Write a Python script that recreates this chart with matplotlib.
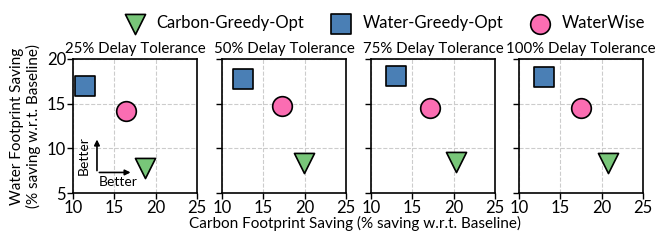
import matplotlib
matplotlib.use("Agg")
import matplotlib.pyplot as plt

plt.rcParams["font.family"] = ["Lato", "DejaVu Sans"]

# delay tolerance panels
titles = ["25% Delay Tolerance", "50% Delay Tolerance", "75% Delay Tolerance", "100% Delay Tolerance"]

# (carbon saving, water saving) per panel
carbon_greedy_x = [18.7, 19.9, 20.3, 20.8]
carbon_greedy_y = [7.8, 8.4, 8.5, 8.4]
water_greedy_x = [11.5, 12.6, 13.0, 13.0]
water_greedy_y = [17.0, 17.8, 18.1, 18.0]
waterwise_x = [16.4, 17.2, 17.1, 17.5]
waterwise_y = [14.2, 14.7, 14.5, 14.5]

green = "#78c679"
blue = "#4a7fb5"
pink = "#fb6db2"

fig = plt.figure(figsize=(6.64, 2.43), dpi=100)
W, H = 664, 243
lefts = [73, 222, 371, 519]
axes = []
for i, l in enumerate(lefts):
    ax = fig.add_axes([l / W, (H - 193) / H, 124 / W, 134 / H])
    axes.append(ax)
    ax.set_xlim(10, 25)
    ax.set_ylim(5, 20)
    ax.set_xticks([10, 15, 20, 25])
    ax.set_yticks([5, 10, 15, 20])
    ax.grid(True, linestyle="--", color="#cccccc", linewidth=0.8)
    ax.set_axisbelow(True)
    ax.tick_params(labelsize=12, length=4, width=1, pad=1)
    if i > 0:
        ax.set_yticklabels([])
    for s in ax.spines.values():
        s.set_linewidth(1.2)
    ax.set_title(titles[i], fontsize=10.8, pad=4)

    ax.scatter(carbon_greedy_x[i], carbon_greedy_y[i], marker="v", s=210, c=green,
               edgecolors="black", linewidths=1.2, zorder=3, label="Carbon-Greedy-Opt")
    ax.scatter(water_greedy_x[i], water_greedy_y[i], marker="s", s=190, c=blue,
               edgecolors="black", linewidths=1.2, zorder=3, label="Water-Greedy-Opt")
    ax.scatter(waterwise_x[i], waterwise_y[i], marker="o", s=200, c=pink,
               edgecolors="black", linewidths=1.2, zorder=3, label="WaterWise")

# "Better" arrows in first panel
a0 = axes[0]
a0.annotate("", xy=(12.9, 11.3), xytext=(12.9, 7.2),
            arrowprops=dict(arrowstyle="-|>", color="black", lw=1.2, mutation_scale=8))
a0.annotate("", xy=(17.3, 7.3), xytext=(12.85, 7.3),
            arrowprops=dict(arrowstyle="-|>", color="black", lw=1.2, mutation_scale=8))
a0.text(11.3, 9.2, "Better", rotation=90, ha="center", va="center", fontsize=10)
a0.text(15.5, 6.2, "Better", ha="center", va="center", fontsize=10)

axes[0].set_ylabel("Water Footprint Saving\n(% saving w.r.t. Baseline)", fontsize=11, labelpad=4)
fig.text(0.535, 0.08, "Carbon Footprint Saving (% saving w.r.t. Baseline)", ha="center", va="center", fontsize=11)

h, lab = axes[0].get_legend_handles_labels()
fig.legend(h, lab, loc="center", bbox_to_anchor=(0.575, 0.905), ncol=3, frameon=False,
           fontsize=12, handletextpad=0.3, columnspacing=1.2, borderaxespad=0)

fig.savefig("out.png", dpi=100)
